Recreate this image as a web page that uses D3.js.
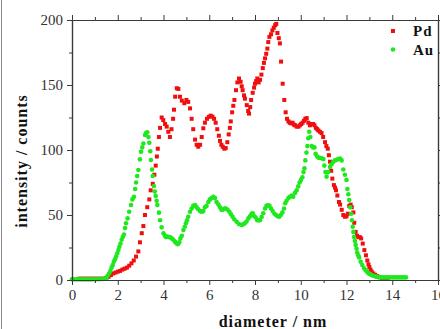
<!DOCTYPE html>
<html>
<head>
<meta charset="utf-8">
<script src="https://cdn.jsdelivr.net/npm/d3@7"></script>
<style>
  html, body { margin: 0; padding: 0; background: #fff; }
  svg { display: block; }
</style>
</head>
<body>
<div id="chart"></div>
<script>
// Pd size distribution (diameter nm, counts)
const pdX = [0.3,0.4,0.5,0.6,0.7,0.8,0.9,1.0,1.1,1.2,1.3,1.4,1.5,
  1.6,1.7,1.8,1.9,2.0,2.1,2.2,2.3,2.4,2.5,2.6,2.7,2.8,2.9,2.97,3.05,3.12,3.19,3.29,3.38,3.44,3.53,3.6,3.66,3.71,3.75,3.8,3.85,3.92,3.99,
  4.07,4.14,4.21,4.28,4.35,4.42,4.46,4.51,4.58,4.65,4.72,4.8,4.91,5.0,5.08,5.16,5.23,5.3,5.38,5.45,5.52,5.6,5.67,5.74,5.81,5.9,5.98,
  6.06,6.14,6.21,6.28,6.35,6.42,6.47,6.53,6.59,6.66,6.72,6.79,6.85,6.9,6.94,7.0,7.05,7.1,7.17,7.23,7.3,7.37,7.42,7.46,7.52,7.56,7.64,7.7,7.74,
  7.79,7.83,7.9,7.96,8.0,8.05,8.1,8.16,8.22,8.28,8.34,8.39,8.44,8.49,8.54,8.58,8.63,8.7,8.76,8.82,8.88,8.93,8.98,9.04,9.09,9.14,9.21,9.28,
  9.34,9.4,9.46,9.52,9.57,9.64,9.7,9.75,9.82,9.9,9.96,10.02,10.08,10.14,10.2,10.26,10.33,10.4,10.47,10.54,10.6,10.66,10.72,10.77,10.84,10.91,
  10.98,11.06,11.12,11.18,11.23,11.28,11.33,11.38,11.45,11.5,11.54,11.6,11.67,11.72,11.79,11.86,11.93,12.0,12.06,12.12,12.18,12.23,12.3,
  12.34,12.4,12.46,12.52,12.58,12.64,12.71,12.78,12.85,12.91,12.96,13.0,13.05,13.1,13.17,13.25,13.33,13.4,13.48,13.56,13.64,13.72,13.8];
const pdY = [1,1,1,1,1,1,1,1,1,1,1,1,1.5,
  2.5,3.8,5,5.7,6.4,7,8,8.7,9.5,11,12.8,15,18,22,29,36,41.5,50,56,62,69,74,81,88,95,101,110,117,125,123,
  120,118,114,110,116,124,131,141,147.5,147,141,138,136,138.5,137,132,124,116,108,104,102.5,104,110,116.7,121,124,125.5,
  126.4,125.6,124,121,116,111,107,104,102.5,101,101.5,106,112,117,122,129,134,138.5,146,152,155,152.5,149,146,142,139.5,134.5,130,128,
  133,138.5,144,148,151,153,155,152,154,158,163,167,170.5,174,178,183,187,189,192,194,196,197,190,186,182,168,151,138.5,
  129,124,122,121,120.5,121,119.5,119,118,118,119,120,121,122.5,124,124.5,121,119,120,120,119,117,116,115,114,113,
  110,106,103,101,96,91,84,78,73,71,69,65,60,58,54,50,48.7,49,51,57,58,56,52,
  44,37,34,33,33,32,28,23,19,15,12,10,8,6.4,5,4,3,2.5,2,1.5,1.2,1,1];

// Au size distribution (diameter nm, counts)
const auX = [0.0,0.1,0.2,0.3,0.4,0.5,0.6,0.7,0.8,0.9,1.0,1.1,1.2,1.3,1.4,1.5,
  1.55,1.62,1.68,1.73,1.78,1.83,1.88,1.93,1.98,2.03,2.07,2.12,2.17,2.22,2.27,2.32,2.36,2.43,2.5,2.58,2.64,2.71,2.76,2.8,2.85,2.9,2.97,
  3.02,3.07,3.12,3.19,3.24,3.29,3.34,3.38,3.42,3.45,3.5,3.53,3.58,3.62,3.66,3.7,3.73,3.8,3.85,3.92,4.0,4.06,4.11,4.16,4.21,4.28,4.36,
  4.43,4.5,4.57,4.63,4.69,4.74,4.8,4.87,4.93,4.98,5.03,5.08,5.16,5.23,5.3,5.38,5.45,5.52,5.6,5.67,5.74,5.81,5.88,5.96,6.03,6.1,6.18,
  6.25,6.32,6.4,6.47,6.53,6.59,6.66,6.73,6.8,6.88,6.95,7.02,7.1,7.2,7.3,7.42,7.5,7.56,7.63,7.71,7.78,7.85,7.9,7.97,8.03,8.1,8.16,8.22,
  8.29,8.36,8.44,8.5,8.56,8.63,8.7,8.77,8.85,8.92,8.99,9.06,9.13,9.2,9.27,9.32,9.38,9.46,9.53,9.6,9.67,9.75,9.82,9.89,9.95,10.01,10.07,
  10.12,10.16,10.2,10.25,10.29,10.33,10.37,10.42,10.48,10.54,10.6,10.65,10.72,10.78,10.84,10.91,10.99,11.03,11.08,11.13,11.2,11.28,
  11.35,11.42,11.5,11.57,11.64,11.72,11.79,11.86,11.93,12.0,12.04,12.08,12.12,12.16,12.2,12.24,12.27,12.3,12.33,12.37,12.4,12.44,12.47,
  12.51,12.55,12.62,12.69,12.77,12.84,12.9,12.97,13.03,13.1,13.17,13.25,13.32,13.4,13.5,13.6,13.7,13.8,13.9,14.0,14.1,14.2,14.3,14.4,14.5,14.6];
const auY = [0.5,0.5,0.5,0.5,0.5,0.5,0.5,0.5,0.5,0.5,0.6,0.6,0.7,0.7,0.8,1.5,
  3,5,7,9.5,11.5,14,16,18,20.5,23,25.6,28,31,33,35,40,43.6,47.4,52.5,57.7,62,64,70,75,80,84.6,92.8,
  98.7,102,105,111.5,113,113.6,110,105.6,99,92.3,85,80,72.3,68,64.6,61,57.7,51.8,46,40.5,36,34,33,33.5,33,33,32,
  31,29.5,28,27.5,29,32,34,38.5,41,43.6,46,48.7,52.5,55,57,57.7,56,54.4,53,52.5,53,56,57,60,62,63,64,
  63,60,58,56,54,54,55,55,54,52.5,50.5,48.7,46.5,44.8,43,42.3,43,43.6,45,47.4,49,51,51.3,49,48,46,46,46,
  48.5,51.3,55,57,57.5,57.2,55,53,51,50,49,48.7,50,52,55,59,61,63,64,65,64,67,69,72,75,77,79,
  83,86,92,98,103,109,114,110,103,102,102,97,95,94,94,93.6,93,88,83,79.5,83,87,
  89,91,92,92.5,93,93.5,92,85,81,77,70,66,61.5,56,51,46,41,37,33,30,27,24,21,
  19,17.4,14,11.5,9,7.5,6.2,5,4.5,3.8,3.3,2.8,2.5,2.2,2,2,2,2,2,2,2,2,2,2,2,2];

const xTicks = [0, 2, 4, 6, 8, 10, 12, 14, 16];
const xMinor = [1, 3, 5, 7, 9, 11, 13, 15];
const yTicks = [0, 50, 100, 150, 200];
const yMinor = [25, 75, 125, 175];
const seriesNames = ["Pd", "Au"];
const seriesColors = ["#f00e0e", "#1ee81e"];

const width = 440, height = 329;
const MarginLeft = 72, PlotRight = 438, PlotTop = 20, PlotBottom = 280;
const axisColor = "#3a3a3a";
const serif = "'Liberation Serif', 'Times New Roman', serif";

const svg = d3.select("#chart").append("svg")
    .attr("width", width)
    .attr("height", height)
    .attr("viewBox", [0, 0, width, height])
    .attr("font-family", serif);

const xScale = d3.scaleLinear([0, 16], [MarginLeft, PlotRight]);
const yScale = d3.scaleLinear([0, 200], [PlotBottom, PlotTop]);

// thin frame line at left page edge
svg.append("line")
    .attr("x1", 1.5).attr("x2", 1.5)
    .attr("y1", 0).attr("y2", height)
    .attr("stroke", "#8a8a8a").attr("stroke-width", 1);

// data points (drawn under the axes)
const plot = svg.append("g");
plot.selectAll("rect.pd")
    .data(d3.range(pdX.length))
    .join("rect")
    .attr("class", "pd")
    .attr("x", i => xScale(pdX[i]) - 2)
    .attr("y", i => yScale(pdY[i]) - 2)
    .attr("width", 4)
    .attr("height", 4)
    .attr("fill", seriesColors[0]);

plot.selectAll("circle.au")
    .data(d3.range(auX.length))
    .join("circle")
    .attr("class", "au")
    .attr("cx", i => xScale(auX[i]))
    .attr("cy", i => yScale(auY[i]))
    .attr("r", 2.3)
    .attr("fill", seriesColors[1]);

function styleAxis(g) {
    g.select(".domain").attr("stroke", axisColor).attr("stroke-width", 1.2);
    g.selectAll(".tick line").attr("stroke", axisColor).attr("stroke-width", 1);
    g.selectAll(".tick text")
        .attr("fill", "#333")
        .attr("font-size", 15)
        .attr("font-family", serif);
}

// bottom
svg.append("g")
    .attr("transform", `translate(0,${PlotBottom})`)
    .call(d3.axisBottom(xScale).tickValues(xTicks).tickSize(5).tickSizeOuter(0).tickPadding(4))
    .call(styleAxis);
svg.append("g")
    .attr("transform", `translate(0,${PlotBottom})`)
    .call(d3.axisBottom(xScale).tickValues(xMinor).tickSize(3).tickFormat("").tickSizeOuter(0))
    .call(styleAxis);
// top
svg.append("g")
    .attr("transform", `translate(0,${PlotTop})`)
    .call(d3.axisTop(xScale).tickValues(xTicks).tickSize(5).tickFormat("").tickSizeOuter(0))
    .call(styleAxis);
svg.append("g")
    .attr("transform", `translate(0,${PlotTop})`)
    .call(d3.axisTop(xScale).tickValues(xMinor).tickSize(3).tickFormat("").tickSizeOuter(0))
    .call(styleAxis);
// left
svg.append("g")
    .attr("transform", `translate(${MarginLeft},0)`)
    .call(d3.axisLeft(yScale).tickValues(yTicks).tickSize(5).tickSizeOuter(0).tickPadding(4))
    .call(styleAxis);
svg.append("g")
    .attr("transform", `translate(${MarginLeft},0)`)
    .call(d3.axisLeft(yScale).tickValues(yMinor).tickSize(3).tickFormat("").tickSizeOuter(0))
    .call(styleAxis);
// right
svg.append("g")
    .attr("transform", `translate(${PlotRight},0)`)
    .call(d3.axisRight(yScale).tickValues(yTicks).tickSize(5).tickFormat("").tickSizeOuter(0))
    .call(styleAxis);
svg.append("g")
    .attr("transform", `translate(${PlotRight},0)`)
    .call(d3.axisRight(yScale).tickValues(yMinor).tickSize(3).tickFormat("").tickSizeOuter(0))
    .call(styleAxis);

// axis titles
svg.append("text")
    .attr("x", (MarginLeft + PlotRight) / 2 + 18)
    .attr("y", 327)
    .attr("text-anchor", "middle")
    .attr("font-size", 16)
    .attr("font-weight", "bold")
    .attr("letter-spacing", 1)
    .attr("fill", "#111")
    .text("diameter / nm");

svg.append("text")
    .attr("transform", `translate(27,${(PlotTop + PlotBottom) / 2 + 11}) rotate(-90)`)
    .attr("text-anchor", "middle")
    .attr("font-size", 16)
    .attr("font-weight", "bold")
    .attr("letter-spacing", 1)
    .attr("fill", "#111")
    .text("intensity / counts");

// legend
const legend = svg.append("g");
seriesNames.forEach((name, i) => {
    const ly = 31 + i * 18.5;
    if (i === 0) {
        legend.append("rect")
            .attr("x", 391).attr("y", ly - 2)
            .attr("width", 4).attr("height", 4)
            .attr("fill", seriesColors[i]);
    } else {
        legend.append("circle")
            .attr("cx", 393).attr("cy", ly)
            .attr("r", 2.3)
            .attr("fill", seriesColors[i]);
    }
    legend.append("text")
        .attr("x", 413)
        .attr("y", ly + 5)
        .attr("font-size", 15)
        .attr("font-weight", "bold")
        .attr("letter-spacing", 1)
        .attr("fill", "#111")
        .text(name);
});
</script>
</body>
</html>
